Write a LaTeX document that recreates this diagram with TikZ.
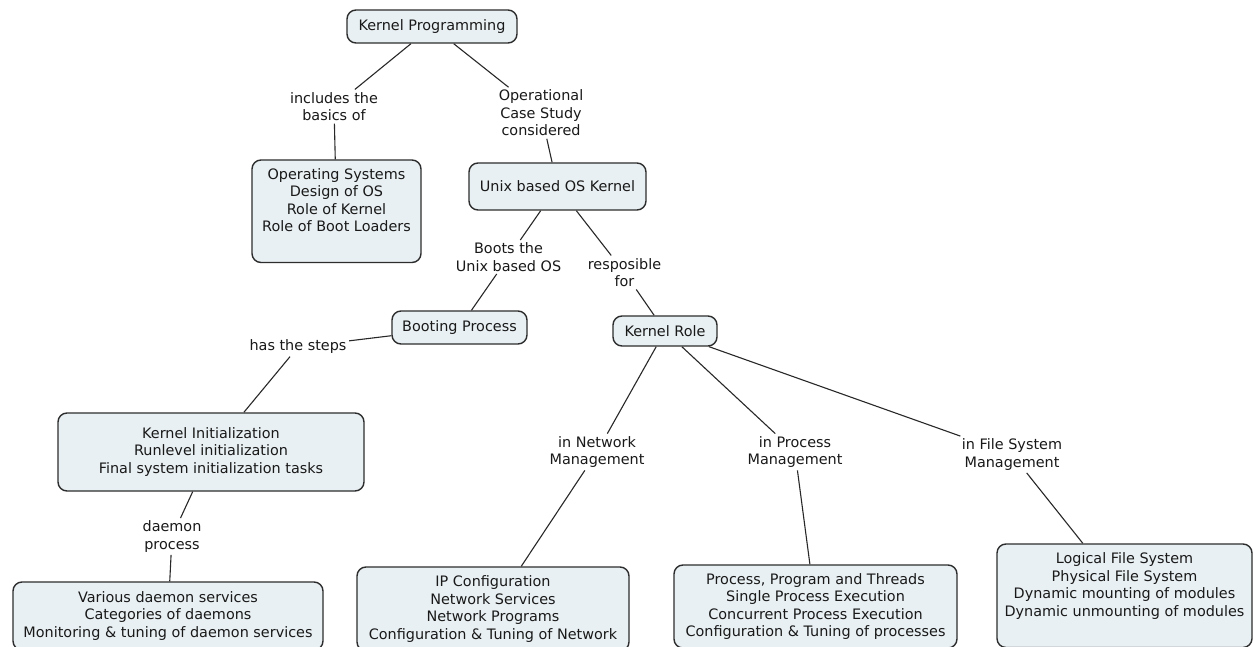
\documentclass[tikz,border=0pt]{standalone}
\usepackage{fontspec}
\setmainfont{DejaVu Sans}
\definecolor{boxfill}{RGB}{233,240,243}
\definecolor{boxline}{RGB}{45,45,45}
\definecolor{linkcol}{RGB}{40,40,40}
\definecolor{txtcol}{RGB}{25,25,25}
\newcommand{\cmapfont}{\fontsize{14.4pt}{17.5pt}\selectfont}
\tikzset{
  cbox/.style={draw=boxline, line width=1.4pt, fill=boxfill, rounded corners=9pt,
    align=center, inner sep=0pt, font=\cmapfont, text=txtcol},
  clabel/.style={align=center, inner sep=2.5pt, font=\cmapfont, text=txtcol},
  clink/.style={draw=linkcol, line width=1.1pt}
}
\begin{document}
\begin{tikzpicture}[x=1pt,y=-1pt]
\useasboundingbox (0,0) rectangle (1253,647);
\fill[white] (0,0) rectangle (1253,647);
\clip (0,0) rectangle (1253,647);

% concept boxes
\node[cbox, minimum width=170pt, minimum height=33pt] (kp) at (432,26.5) {Kernel Programming};
\node[cbox, minimum width=169pt, minimum height=102.5pt] (os) at (336.5,211.25)
  {Operating Systems\\Design of OS\\Role of Kernel\\Role of Boot Loaders\\\strut};
\node[cbox, minimum width=177pt, minimum height=47pt] (unix) at (557.5,186.5) {Unix based OS Kernel};
\node[cbox, minimum width=135pt, minimum height=33pt] (bp) at (459.5,327.5) {Booting Process};
\node[cbox, minimum width=104pt, minimum height=30pt] (kr) at (665,331) {Kernel Role};
\node[cbox, minimum width=306pt, minimum height=78pt] (ki) at (211,452)
  {Kernel Initialization\\Runlevel initialization\\Final system initialization tasks};
\node[cbox, minimum width=310pt, minimum height=68pt] (dm) at (168,616)
  {Various daemon services\\Categories of daemons\\Monitoring \& tuning of daemon services};
\node[cbox, minimum width=272pt, minimum height=84pt] (ip) at (493,609)
  {IP Configuration\\Network Services\\Network Programs\\Configuration \& Tuning of Network};
\node[cbox, minimum width=283pt, minimum height=83pt] (pr) at (815.5,606.5)
  {Process, Program and Threads\\Single Process Execution\\Concurrent Process Execution\\Configuration \& Tuning of processes};
\node[cbox, minimum width=255pt, minimum height=103.5pt] (lfs) at (1124.5,595.75)
  {Logical File System\\Physical File System\\Dynamic mounting of modules\\Dynamic unmounting of modules\\\strut};

% linking phrases
\node[clabel] (lincl) at (334,106.5) {includes the\\basics of};
\node[clabel] (loper) at (541,113) {Operational\\Case Study\\considered};
\node[clabel] (lboots) at (508.5,257) {Boots the\\Unix based OS};
\node[clabel] (lresp) at (624.5,272.5) {resposible\\for};
\node[clabel] (lsteps) at (298,347) {has the steps};
\node[clabel] (ldaemon) at (172,536.5) {daemon\\process};
\node[clabel] (lnet) at (597,452) {in Network\\Management};
\node[clabel] (lproc) at (795,452) {in Process\\Management};
\node[clabel] (lfsm) at (1012,454.5) {in File System\\Management};

% connectors
\draw[clink] (kp) -- (lincl);
\draw[clink] (lincl) -- (os);
\draw[clink] (kp) -- (loper);
\draw[clink] (loper) -- (unix);
\draw[clink] (unix) -- (lboots);
\draw[clink] (lboots) -- (bp);
\draw[clink] (unix) -- (lresp);
\draw[clink] (lresp) -- (kr);
\draw[clink] (bp) -- (lsteps);
\draw[clink] (lsteps) -- (ki);
\draw[clink] (ki) -- (ldaemon);
\draw[clink] (ldaemon) -- (dm);
\draw[clink] (kr) -- (lnet);
\draw[clink] (lnet) -- (ip);
\draw[clink] (kr) -- (lproc);
\draw[clink] (lproc) -- (pr);
\draw[clink] (kr) -- (lfsm);
\draw[clink] (lfsm) -- (lfs);
\end{tikzpicture}
\end{document}
